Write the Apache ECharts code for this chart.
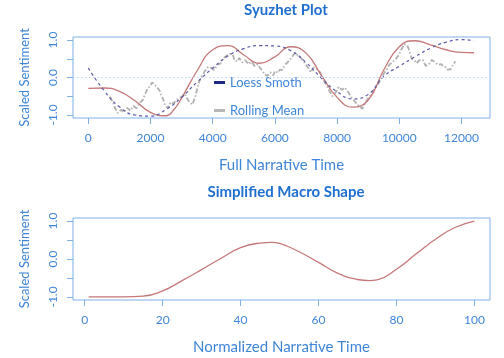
<!DOCTYPE html>
<html><head><meta charset="utf-8">
<script src="https://cdn.jsdelivr.net/npm/echarts@6/dist/echarts.min.js"></script>
<style>html,body{margin:0;padding:0;background:#fff}#c{width:504px;height:358px}</style>
</head><body><div id="c"></div>
<script>
// ---- Top plot: Syuzhet Plot ----
const dctTime = [0,500,1000,1500,2000,2500,2750,3000,3500,4000,4500,5000,5500,6000,6500,7000,7500,8000,8500,9000,9500,10000,10500,11000,11500,12000,12400];
const dctValues = [-0.29,-0.28,-0.37,-0.62,-0.93,-1.02,-0.86,-0.55,0.18,0.74,0.85,0.60,0.38,0.55,0.82,0.65,0.05,-0.53,-0.79,-0.60,0.20,0.82,0.98,0.87,0.74,0.67,0.66];

const loessTime = [0,500,1000,1500,2000,2500,3000,3500,4000,4500,5000,5500,6000,6500,7000,7500,8000,8500,9000,9500,10000,10500,11000,11500,12000,12400];
const loessValues = [0.25,-0.34,-0.78,-1.00,-1.03,-0.85,-0.53,-0.12,0.25,0.58,0.77,0.85,0.84,0.72,0.40,-0.02,-0.38,-0.57,-0.45,0.03,0.30,0.55,0.78,0.94,1.01,0.98];

const rollStart = 700, rollStep = 50;
const rollValues = [
 -0.51,-0.60,-0.66,-0.80,-0.85,-0.95,-0.92,-0.86,-0.84,-0.93,-0.89,-0.81,-0.79,-0.88,-0.84,-0.76,-0.74,-0.82,-0.78,-0.68,
 -0.70,-0.60,-0.55,-0.40,-0.30,-0.27,-0.22,-0.13,-0.12,-0.21,-0.19,-0.30,-0.36,-0.49,-0.56,-0.70,-0.73,-0.82,-0.78,-0.66,
 -0.64,-0.70,-0.62,-0.60,-0.56,-0.60,-0.52,-0.47,-0.44,-0.52,-0.56,-0.66,-0.64,-0.72,-0.69,-0.48,-0.30,-0.14,-0.05,0.04,
 0.08,0.17,0.18,0.28,0.33,0.26,0.29,0.20,0.24,0.34,0.31,0.37,0.41,0.52,0.50,0.58,0.54,0.63,0.65,0.60,
 0.45,0.49,0.43,0.52,0.48,0.40,0.37,0.46,0.43,0.36,0.34,0.42,0.39,0.30,0.32,0.35,0.28,0.24,0.18,0.10,
 0.13,0.04,0.06,0.14,0.11,0.06,0.17,0.20,0.13,0.20,0.24,0.21,0.30,0.36,0.37,0.44,0.47,0.55,0.58,0.66,
 0.64,0.58,0.55,0.51,0.47,0.40,0.35,0.28,0.22,0.14,0.18,0.27,0.31,0.22,0.24,0.14,0.05,-0.05,-0.12,-0.20,
 -0.26,-0.36,-0.40,-0.50,-0.48,-0.40,-0.34,-0.25,-0.28,-0.33,-0.37,-0.27,-0.29,-0.38,-0.45,-0.52,-0.55,-0.62,-0.63,-0.73,
 -0.70,-0.78,-0.84,-0.77,-0.69,-0.62,-0.55,-0.50,-0.45,-0.36,-0.31,-0.26,-0.20,-0.12,-0.10,0.02,0.10,0.14,0.22,0.30,
 0.36,0.38,0.42,0.47,0.51,0.56,0.62,0.72,0.80,0.89,0.92,0.86,0.77,0.62,0.50,0.53,0.45,0.38,0.39,0.46,
 0.51,0.47,0.42,0.31,0.26,0.35,0.40,0.47,0.48,0.40,0.37,0.34,0.32,0.36,0.30,0.26,0.27,0.21,0.16,0.22,
 0.30,0.36,0.43
];
const xTicksTop = [0,2000,4000,6000,8000,10000,12000];
const yTicks = [-1,-0.5,0,0.5,1];
const yLabels = [-1,0,1];

// ---- Bottom plot: Simplified Macro Shape ----
const macroTime = [1,5,10,15,20,25,30,35,40,45,48,50,55,60,65,70,73,75,80,85,90,95,100];
const macroValues = [-1.0,-1.0,-1.0,-0.98,-0.84,-0.57,-0.28,0.02,0.30,0.42,0.44,0.41,0.19,-0.09,-0.38,-0.54,-0.57,-0.55,-0.27,0.13,0.52,0.83,1.0];
const xTicksBottom = [0,20,40,60,80,100];

const BLUE = '#3f86d8', TITLE = '#1e6fd0', BOX = '#7fb0e6';
const FONT = 'Lato';

const pairs = (xs, ys) => xs.map((x, i) => [x, ys[i]]);
const rollData = rollValues.map((v, i) => [rollStart + i * rollStep, v]);

function xAxis(idx, min, max, ticks, name) {
  return {
    type: 'value', gridIndex: idx, min: min, max: max, position: 'bottom',
    splitLine: {show: false},
    axisLine: {show: false, onZero: false},
    axisTick: {show: true, customValues: ticks, length: 6, lineStyle: {color: BOX}},
    axisLabel: {customValues: ticks, color: BLUE, fontSize: 12, fontFamily: FONT, margin: 14,
      formatter: v => String(v)},
    name: name, nameLocation: 'middle', nameGap: 40,
    nameTextStyle: {color: BLUE, fontSize: 15, fontFamily: FONT}
  };
}
function yAxis(idx) {
  return {
    type: 'value', gridIndex: idx, min: -1.08, max: 1.08, position: 'left',
    splitLine: {show: false},
    axisLine: {show: false, onZero: false},
    axisTick: {show: true, customValues: yTicks, length: 6, lineStyle: {color: BOX}},
    axisLabel: {customValues: yLabels, color: BLUE, fontSize: 12, fontFamily: FONT, rotate: 90, margin: 14,
      formatter: v => v.toFixed(1)},
    name: 'Scaled Sentiment', nameLocation: 'middle', nameGap: 42,
    nameTextStyle: {color: BLUE, fontSize: 13, fontFamily: FONT}
  };
}

const chart = echarts.init(document.getElementById('c'), null, {renderer: 'canvas'});
chart.setOption({
  animation: false,
  title: [
    {text: 'Syuzhet Plot', left: 281, top: -2, textAlign: 'center',
     textStyle: {color: TITLE, fontSize: 15, fontWeight: 'bold', fontFamily: FONT}},
    {text: 'Simplified Macro Shape', left: 281, top: 180, textAlign: 'center',
     textStyle: {color: TITLE, fontSize: 15, fontWeight: 'bold', fontFamily: FONT}}
  ],
  grid: [
    {left: 73, right: 14, top: 37, height: 81, show: true, borderColor: BOX, borderWidth: 1, backgroundColor: 'transparent'},
    {left: 73, right: 14, top: 218, height: 82, show: true, borderColor: BOX, borderWidth: 1, backgroundColor: 'transparent'}
  ],
  legend: [
    {data: ['Loess Smoth'], left: 209, top: 71, icon: 'rect', itemWidth: 11, itemHeight: 3, itemGap: 4,
     textStyle: {color: BLUE, fontSize: 13, fontFamily: FONT}},
    {data: ['Rolling Mean'], left: 209, top: 99, icon: 'rect', itemWidth: 11, itemHeight: 3, itemGap: 4,
     textStyle: {color: BLUE, fontSize: 13, fontFamily: FONT}}
  ],
  xAxis: [
    xAxis(0, -492, 12916, xTicksTop, 'Full Narrative Time'),
    xAxis(1, -3, 104, xTicksBottom, 'Normalized Narrative Time')
  ],
  yAxis: [yAxis(0), yAxis(1)],
  series: [
    {name: 'Rolling Mean', type: 'line', xAxisIndex: 0, yAxisIndex: 0, data: rollData,
     showSymbol: false, smooth: false, z: 2,
     itemStyle: {color: '#b8b8b8'},
     lineStyle: {color: '#b0b0b0', width: 1.8, type: [5, 2, 1.5, 2]},
     markLine: {silent: true, symbol: 'none', label: {show: false},
       lineStyle: {color: '#c9ddf3', type: [2, 2], width: 1},
       data: [{yAxis: 0}]}},
    {name: 'Syuzhet', type: 'line', xAxisIndex: 0, yAxisIndex: 0, data: pairs(dctTime, dctValues),
     showSymbol: false, smooth: 0.5, z: 3,
     lineStyle: {color: '#c47878', width: 1.3}},
    {name: 'Loess Smoth', type: 'line', xAxisIndex: 0, yAxisIndex: 0, data: pairs(loessTime, loessValues),
     showSymbol: false, smooth: 0.5, z: 4,
     itemStyle: {color: '#1c2a80'},
     lineStyle: {color: '#5a5aa8', width: 1.2, type: [3, 3]}},
    {name: 'Macro', type: 'line', xAxisIndex: 1, yAxisIndex: 1, data: pairs(macroTime, macroValues),
     showSymbol: false, smooth: 0.5,
     lineStyle: {color: '#c47878', width: 1.3}}
  ]
});
</script></body></html>
